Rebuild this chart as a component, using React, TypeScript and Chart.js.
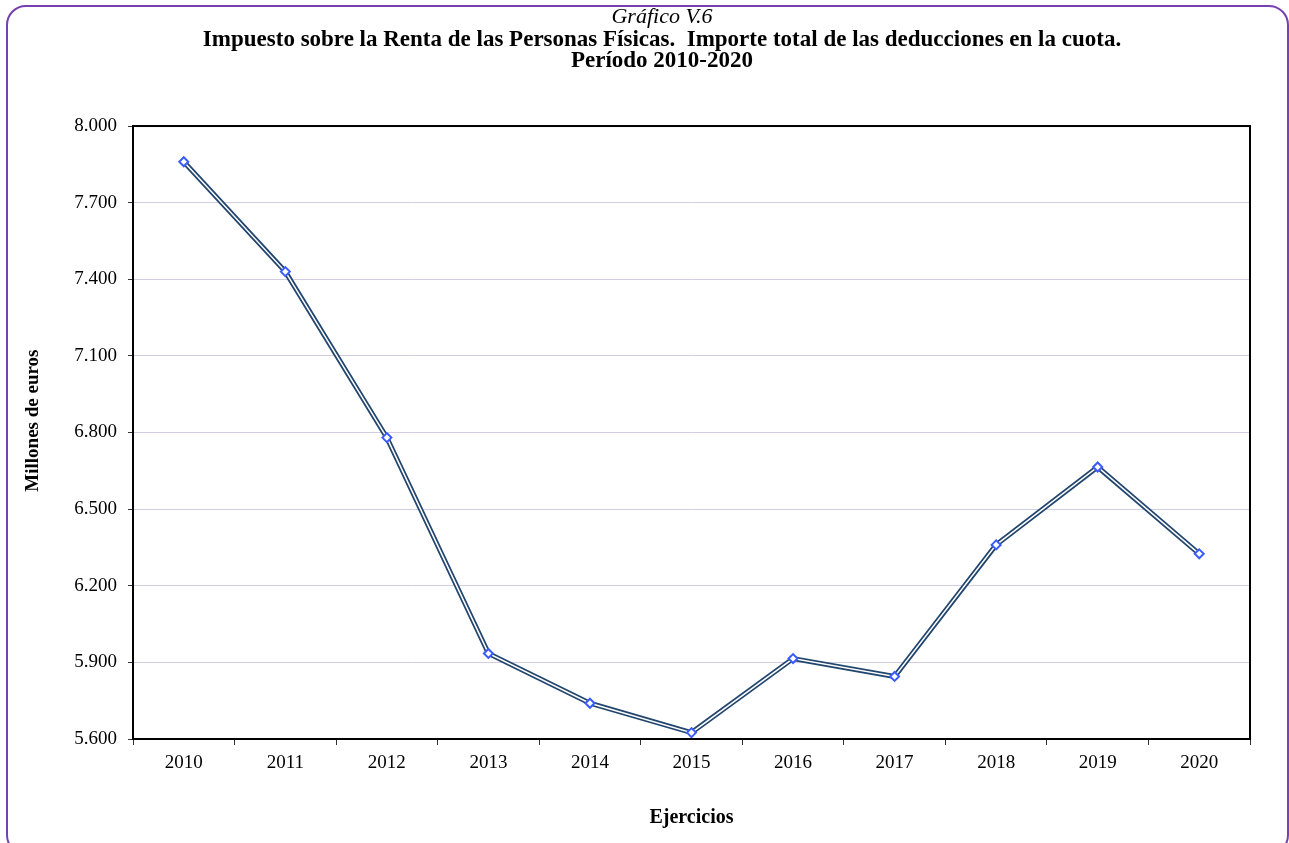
import React, { useEffect, useRef } from "react";
import { Chart, registerables } from "chart.js";

Chart.register(...registerables);

const years = ["2010", "2011", "2012", "2013", "2014", "2015", "2016", "2017", "2018", "2019", "2020"];
const deductions = [7860, 7430, 6780, 5935, 5740, 5625, 5915, 5845, 6360, 6665, 6325];
const yMin = 5600;
const yMax = 8000;
const yStep = 300;
const titleText = "Gráfico V.6";
const subtitleText = [
  "Impuesto sobre la Renta de las Personas Físicas.  Importe total de las deducciones en la cuota.",
  "Período 2010-2020",
];
const yAxisTitle = "     Millones de euros";
const xAxisTitle = "Ejercicios";

const FONT = "'Liberation Serif', 'Times New Roman', serif";

const PAD_LEFT = 74;
const PLOT_LEFT = 133;

function fmt(v: number): string {
  return String(Math.round(v)).replace(/\B(?=(\d{3})+(?!\d))/g, ".");
}

const plotBorder = {
  id: "plotBorder",
  afterDraw(chart: any) {
    const { ctx, chartArea } = chart;
    ctx.save();
    ctx.strokeStyle = "#000";
    ctx.lineWidth = 2;
    ctx.strokeRect(chartArea.left, chartArea.top, chartArea.right - chartArea.left, chartArea.bottom - chartArea.top);
    ctx.restore();
  },
};

export default function App() {
  const ref = useRef<HTMLCanvasElement | null>(null);

  useEffect(() => {
    if (!ref.current) return;
    const chart = new Chart(ref.current, {
      type: "line",
      data: {
        labels: years,
        datasets: [
          {
            label: "inner",
            data: deductions,
            borderColor: "#ffffff",
            borderWidth: 1.5,
            pointStyle: "rectRot",
            pointRadius: 4.5,
            pointBorderWidth: 2,
            pointBorderColor: "#3a5cff",
            pointBackgroundColor: "#ffffff",
            tension: 0,
            order: 0,
          },
          {
            label: "outer",
            data: deductions,
            borderColor: "#23466f",
            borderWidth: 5,
            pointRadius: 0,
            tension: 0,
            order: 1,
          },
        ],
      },
      options: {
        responsive: false,
        animation: false,
        layout: { padding: { left: PAD_LEFT, top: 0, bottom: 0, right: 39 } },
        plugins: {
          legend: { display: false },
          tooltip: { enabled: false },
          title: {
            display: true,
            text: titleText,
            color: "#000",
            font: { family: FONT, size: 22, style: "italic", weight: "normal", lineHeight: 1 },
            padding: { top: 6, bottom: 0 },
          },
          subtitle: {
            display: true,
            text: subtitleText,
            color: "#000",
            font: { family: FONT, size: 23, weight: "bold", lineHeight: 0.92 },
            padding: { top: 1, bottom: 54.7 },
          },
        },
        scales: {
          x: {
            type: "category",
            offset: true,
            afterFit: (scale: any) => {
              scale.height = 104;
            },
            grid: {
              offset: true,
              drawOnChartArea: false,
              drawTicks: true,
              tickLength: 6,
              tickColor: "#333",
            },
            border: { display: false },
            ticks: {
              color: "#000",
              font: { family: FONT, size: 19 },
              padding: 7,
              maxRotation: 0,
            },
            title: {
              display: true,
              text: xAxisTitle,
              color: "#000",
              font: { family: FONT, size: 20, weight: "bold", lineHeight: 1.2 },
              padding: { top: 0, bottom: 13 },
            },
          },
          y: {
            min: yMin,
            max: yMax,
            afterFit: (scale: any) => {
              scale.width = PLOT_LEFT - PAD_LEFT;
            },
            grid: {
              color: "#d3cce3",
              lineWidth: 1,
              drawTicks: true,
              tickLength: 5,
              tickColor: "#333",
            },
            border: { display: false },
            ticks: {
              stepSize: yStep,
              color: "#000",
              font: { family: FONT, size: 19 },
              padding: 11,
              callback: (v: any) => fmt(Number(v)),
            },
            title: {
              display: true,
              text: yAxisTitle,
              color: "#000",
              font: { family: FONT, size: 19, weight: "bold", lineHeight: 1.2 },
              padding: { top: 33.5 - PAD_LEFT - 11.4, bottom: 0 },
            },
          },
        },
      },
      plugins: [plotBorder],
    });
    return () => chart.destroy();
  }, []);

  return (
    <div
      style={{
        position: "absolute",
        left: 0,
        top: 0,
        width: 1289,
        height: 843,
        overflow: "hidden",
        background: "#fff",
      }}
    >
      <canvas ref={ref} width={1289} height={843} style={{ display: "block", width: 1289, height: 843 }} />
      <div
        style={{
          position: "absolute",
          left: 6,
          top: 5,
          width: 1283,
          height: 850,
          border: "2px solid #7540b0",
          borderRadius: 20,
          boxSizing: "border-box",
          pointerEvents: "none",
        }}
      />
    </div>
  );
}
